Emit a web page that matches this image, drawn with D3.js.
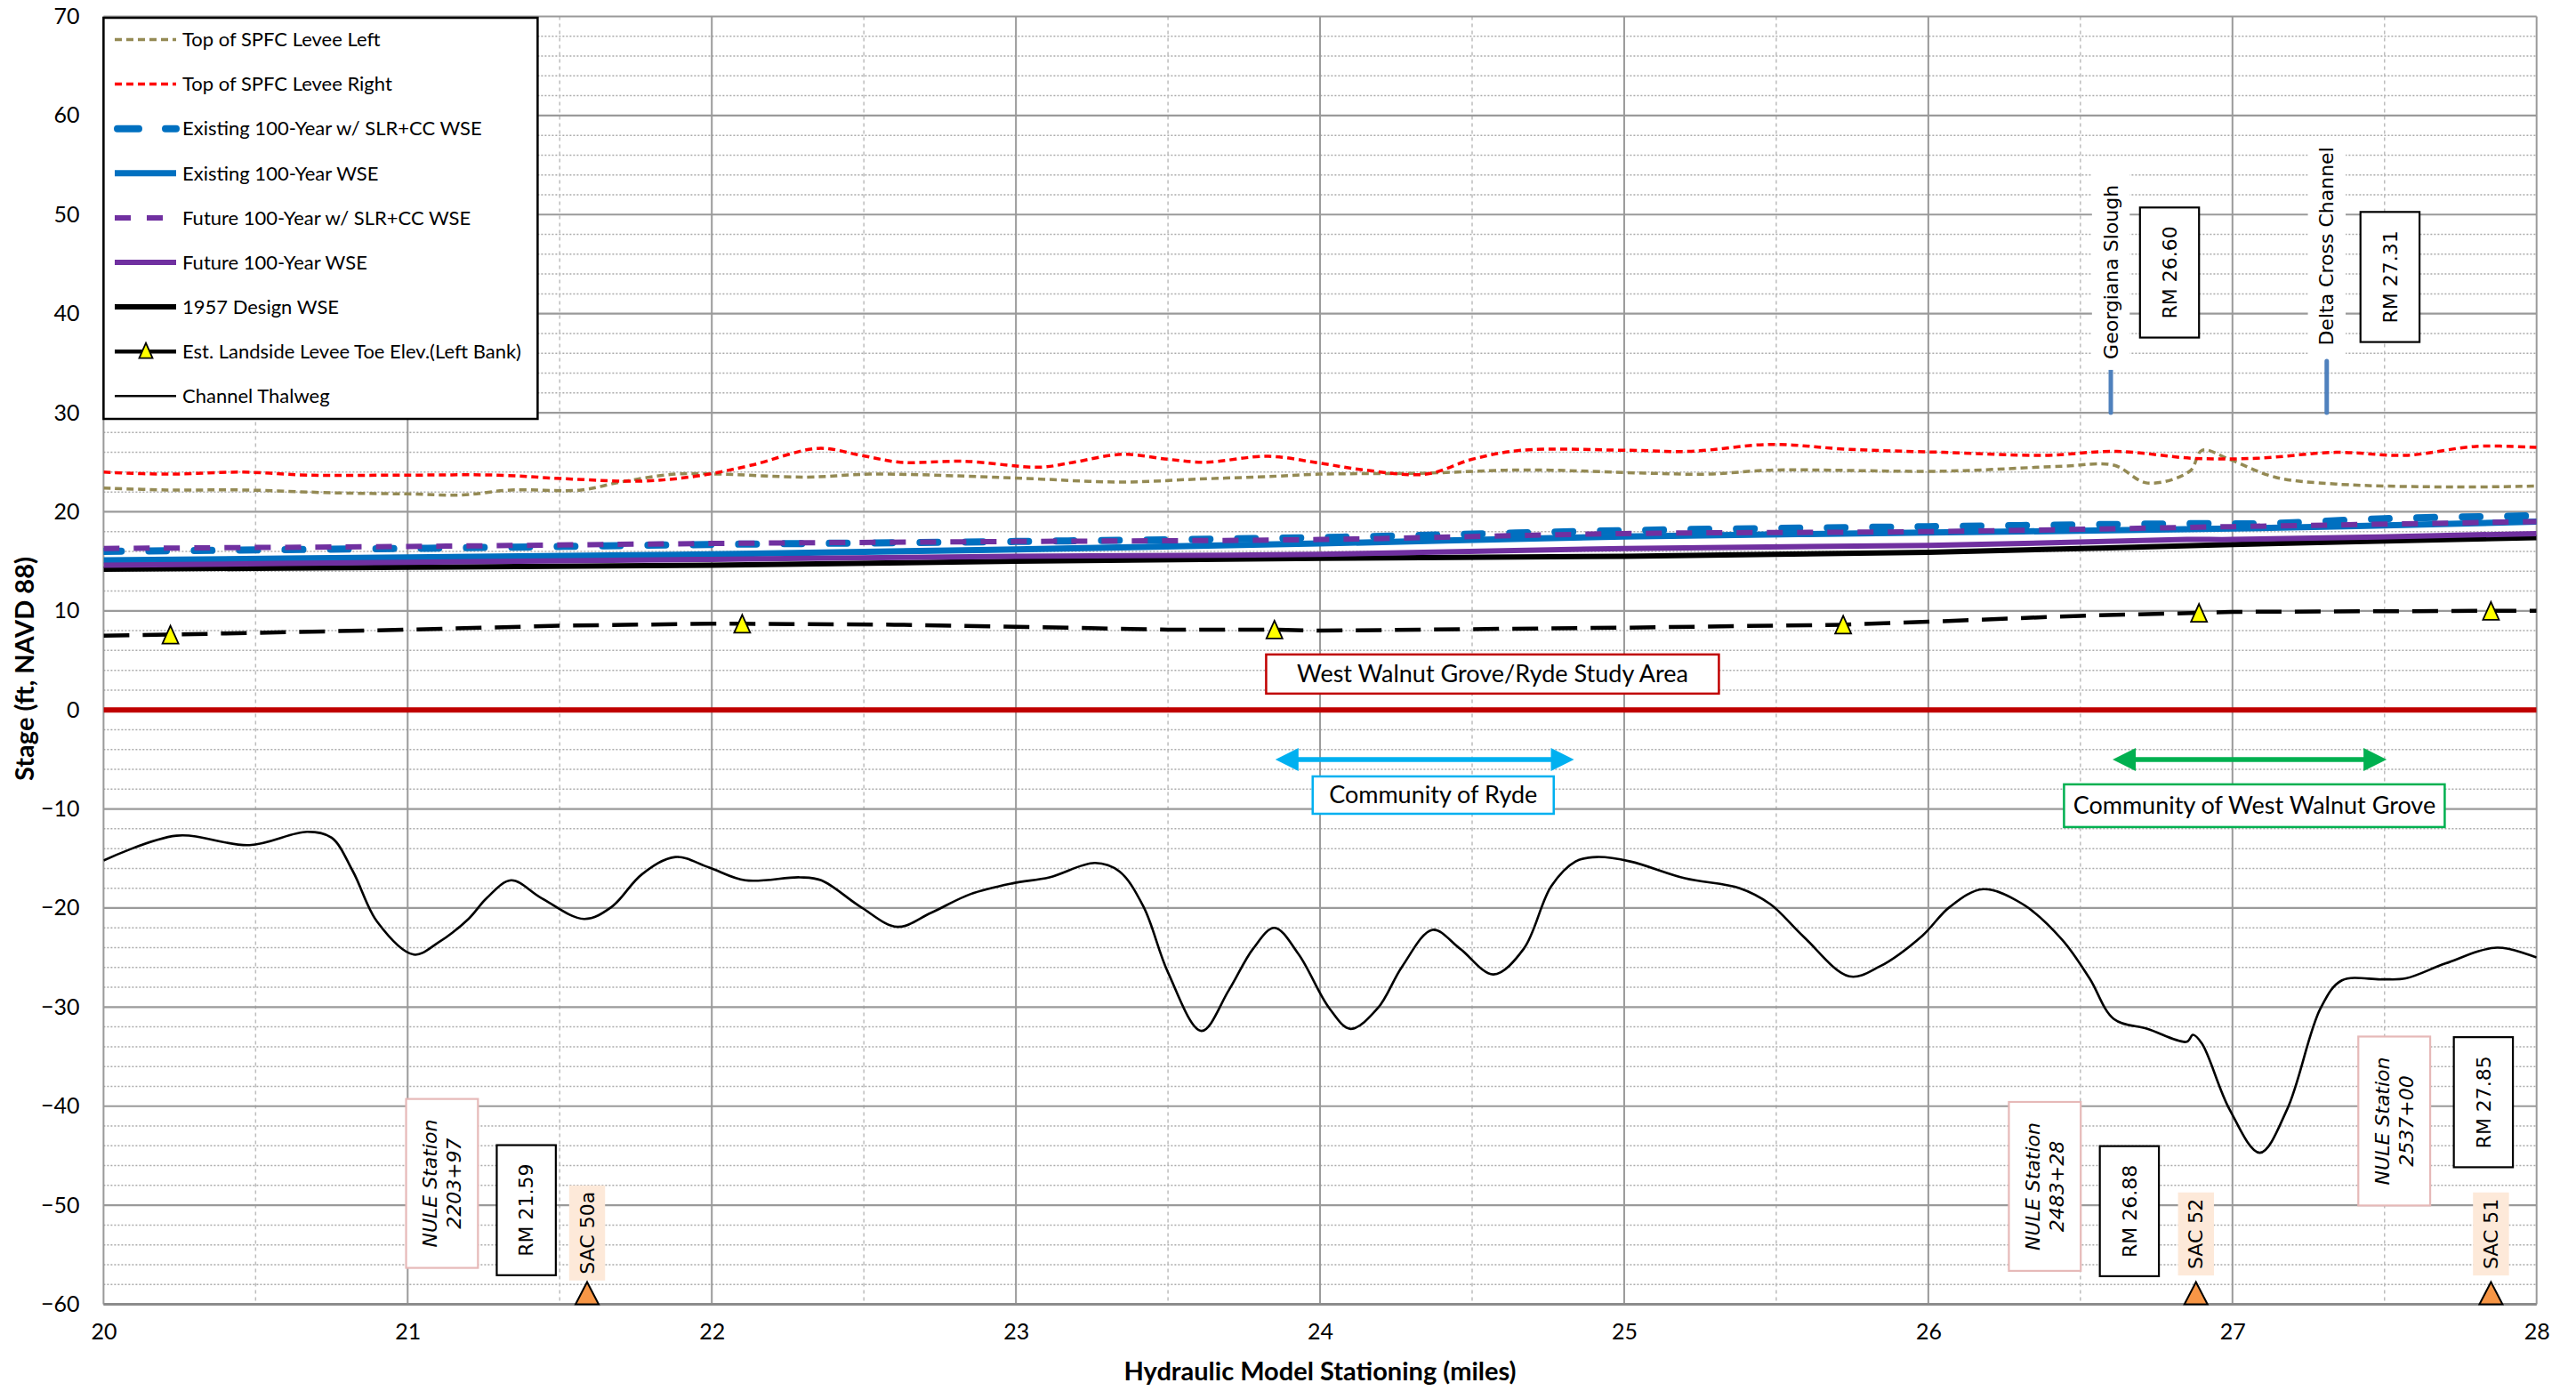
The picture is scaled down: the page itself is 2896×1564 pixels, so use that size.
<!DOCTYPE html>
<html><head><meta charset="utf-8">
<script src="https://cdn.jsdelivr.net/npm/d3@7"></script>
<style>body{margin:0;background:#fff}svg{display:block}</style>
</head><body>
<svg id="chart" width="2896" height="1564"></svg>
<script>
// ---------------- DATA ----------------
const xTicks = [20, 21, 22, 23, 24, 25, 26, 27, 28];
const yTicks = [70, 60, 50, 40, 30, 20, 10, 0, -10, -20, -30, -40, -50, -60];
const xTitle = "Hydraulic Model Stationing (miles)";
const yTitle = "Stage (ft, NAVD 88)";

const leveeLeft = [[20.0,22.4],[20.21,22.2],[20.46,22.2],[20.77,21.9],[21.0,21.8],[21.18,21.7],[21.34,22.2],[21.57,22.2],[21.7,23.0],[21.88,23.8],[22.03,23.8],[22.31,23.5],[22.52,23.8],[22.83,23.6],[23.08,23.3],[23.34,23.0],[23.6,23.3],[23.86,23.6],[24.0,23.8],[24.35,23.9],[24.61,24.2],[24.76,24.2],[25.07,23.9],[25.28,23.8],[25.48,24.2],[26.05,24.1],[26.44,24.6],[26.61,24.7],[26.72,22.9],[26.86,24.1],[26.9,26.2],[26.99,25.3],[27.14,23.5],[27.34,22.8],[27.73,22.5],[28.0,22.6]];
const leveeRight = [[20.0,24.0],[20.21,23.8],[20.46,24.0],[20.67,23.7],[21.0,23.7],[21.29,23.7],[21.54,23.3],[21.77,23.1],[21.95,23.6],[22.13,24.7],[22.35,26.4],[22.49,25.7],[22.62,25.0],[22.83,25.1],[23.08,24.5],[23.19,25.0],[23.35,25.8],[23.5,25.3],[23.62,25.0],[23.83,25.6],[24.0,24.9],[24.15,24.2],[24.35,23.8],[24.5,25.3],[24.66,26.2],[25.02,26.2],[25.22,26.1],[25.48,26.8],[25.74,26.3],[26.05,26.0],[26.38,25.7],[26.62,26.1],[26.87,25.4],[27.08,25.4],[27.34,26.0],[27.57,25.7],[27.8,26.6],[28.0,26.5]];
const existSLR = [[20,16.0],[21,16.3],[22,16.7],[23,17.0],[24,17.4],[25,18.1],[26,18.5],[26.9,18.8],[27.1,18.8],[27.5,19.3],[28,19.6]];
const existWSE = [[20,15.1],[21,15.4],[22,15.7],[23,16.2],[24,16.8],[25,17.5],[26,17.9],[27,18.3],[28,19.0]];
const futureSLR = [[20,16.3],[21,16.5],[22,16.8],[23,17.0],[24,17.2],[25,17.8],[26,18.0],[27,18.5],[28,19.0]];
const futureWSE = [[20,14.6],[21,14.9],[22,15.2],[23,15.5],[24,15.7],[25,16.3],[26,16.6],[26.85,17.2],[27,17.2],[28,17.8]];
const design1957 = [[20,14.2],[21,14.4],[22,14.6],[23,15.0],[24,15.3],[25,15.5],[26,15.9],[27,16.7],[28,17.4]];
const leveeToe = [[20,7.5],[20.22,7.6],[21,8.1],[21.5,8.5],[22,8.7],[22.1,8.7],[22.6,8.6],[23,8.4],[23.5,8.1],[23.85,8.1],[24,8.0],[25,8.3],[25.72,8.6],[26,8.9],[26.5,9.5],[26.89,9.8],[27,9.9],[27.85,10.0],[28,10.0]];
const leveeToeMarkers = [[20.22,7.6],[22.10,8.7],[23.85,8.1],[25.72,8.6],[26.89,9.8],[27.85,10.0]];
const thalweg = [[20.0,-15.2],[20.24,-12.7],[20.48,-13.65],[20.67,-12.3],[20.75,-12.9],[20.82,-16.3],[20.9,-21.4],[21.02,-24.7],[21.1,-23.5],[21.2,-21.1],[21.26,-19.0],[21.34,-17.2],[21.44,-19.0],[21.58,-21.1],[21.67,-19.9],[21.77,-16.6],[21.88,-14.85],[21.99,-15.9],[22.11,-17.2],[22.29,-16.9],[22.36,-17.2],[22.49,-19.9],[22.61,-21.9],[22.72,-20.5],[22.85,-18.6],[22.99,-17.5],[23.11,-16.9],[23.26,-15.45],[23.34,-16.3],[23.42,-19.9],[23.5,-26.5],[23.61,-32.4],[23.7,-28.3],[23.78,-24.1],[23.85,-22.0],[23.93,-24.7],[24.03,-30.1],[24.1,-32.2],[24.19,-30.1],[24.27,-25.9],[24.37,-22.2],[24.46,-24.1],[24.57,-26.7],[24.67,-24.1],[24.76,-17.8],[24.84,-15.3],[24.91,-14.85],[25.02,-15.3],[25.2,-17.0],[25.38,-18.0],[25.48,-19.6],[25.59,-22.9],[25.74,-26.9],[25.84,-25.9],[25.98,-22.8],[26.07,-19.9],[26.18,-18.1],[26.31,-19.6],[26.44,-23.2],[26.53,-27.1],[26.61,-31.2],[26.72,-32.2],[26.85,-33.5],[26.87,-32.8],[26.9,-33.7],[26.99,-40.3],[27.09,-44.7],[27.18,-40.3],[27.29,-30.1],[27.36,-27.3],[27.49,-27.2],[27.57,-27.1],[27.7,-25.6],[27.87,-24.0],[28.0,-25.0]];
const zeroLine = [[20,0],[28,0]];

const legendLabels = ["Top of SPFC Levee Left","Top of SPFC Levee Right","Existing 100-Year w/ SLR+CC WSE","Existing 100-Year WSE","Future 100-Year w/ SLR+CC WSE","Future 100-Year WSE","1957 Design WSE","Est. Landside Levee Toe Elev.(Left Bank)","Channel Thalweg"];

// annotation anchors (mile, ft)
const junctionNames = ["Georgiana Slough","Delta Cross Channel"];
const junctionMiles = [26.60, 27.31];
const junctionTextFt = [44.2, 46.8];
const junctionTickFt = [[30, 35], [30, 35.2]];
const rmTopLabels = ["RM 26.60","RM 27.31"];
const rmTopAnchor = [[26.793, 44.15],[27.518, 43.7]];
const nuleLabels = [["NULE Station","2203+97"],["NULE Station","2483+28"],["NULE Station","2537+00"]];
const nuleAnchor = [[21.113,-47.8],[26.383,-48.1],[27.532,-41.5]];
const rmBottomLabels = ["RM 21.59","RM 26.88","RM 27.85"];
const rmBottomAnchor = [[21.39,-50.5],[26.661,-50.6],[27.825,-39.6]];
const sacLabels = ["SAC 50a","SAC 52","SAC 51"];
const sacMiles = [21.59, 26.88, 27.85];
const sacLabelFt = [-52.8, -52.9, -52.9];
const studyAreaText = "West Walnut Grove/Ryde Study Area";
const studyAreaAnchor = [24.567, 3.62];
const communityNames = ["Community of Ryde","Community of West Walnut Grove"];
const communityRanges = [[23.853, 24.835],[26.606, 27.507]];
const communityArrowFt = [-5.0, -5.0];
const communityBoxAnchor = [[24.372,-8.6],[27.072,-9.67]];

// ---------------- SETUP ----------------
const W = 2896, H = 1564;
const L = 116.4, R = 2851.7, T = 18.5, B = 1466.5;
const svg = d3.select("#chart");
svg.append("rect").attr("width", W).attr("height", H).attr("fill", "#fff");
const x = d3.scaleLinear().domain([20, 28]).range([L, R]);
const y = d3.scaleLinear().domain([-60, 70]).range([B, T]);
const NARROW = "Lato, 'Liberation Sans Narrow', sans-serif";
const VERD = "'DejaVu Sans', Verdana, sans-serif";

// ---------------- GRID ----------------
const grid = svg.append("g");
const minorY = d3.range(-60, 71, 2).filter(v => v % 10 !== 0);
grid.selectAll(".my").data(minorY).join("line")
  .attr("x1", L).attr("x2", R).attr("y1", d => y(d)).attr("y2", d => y(d))
  .attr("stroke", "#ababab").attr("stroke-width", 1.5).attr("stroke-dasharray", "2,2");
const minorX = d3.range(20.5, 28, 1);
grid.selectAll(".mx").data(minorX).join("line")
  .attr("y1", T).attr("y2", B).attr("x1", d => x(d)).attr("x2", d => x(d))
  .attr("stroke", "#bdbdbd").attr("stroke-width", 1.5).attr("stroke-dasharray", "4,4");
grid.selectAll(".My").data(yTicks).join("line")
  .attr("x1", L).attr("x2", R).attr("y1", d => y(d)).attr("y2", d => y(d))
  .attr("stroke", "#9a9a9a").attr("stroke-width", 2.2);
grid.selectAll(".Mx").data(xTicks).join("line")
  .attr("y1", T).attr("y2", B).attr("x1", d => x(d)).attr("x2", d => x(d))
  .attr("stroke", "#9a9a9a").attr("stroke-width", 2);
grid.append("line").attr("x1", L).attr("x2", R).attr("y1", B).attr("y2", B)
  .attr("stroke", "#8c8c8c").attr("stroke-width", 3);

// ---------------- AXES ----------------
const yAxis = d3.axisLeft(y).tickValues(yTicks).tickSize(0).tickPadding(27);
const gy = svg.append("g").attr("transform", `translate(${L},0)`).call(yAxis);
gy.select(".domain").remove();
gy.selectAll("text").attr("font-family", NARROW).attr("font-size", 25).attr("fill", "#000");
const xAxis = d3.axisBottom(x).tickValues(xTicks).tickSize(0).tickPadding(22);
const gx = svg.append("g").attr("transform", `translate(0,${B})`).call(xAxis);
gx.select(".domain").remove();
gx.selectAll("text").attr("font-family", NARROW).attr("font-size", 25).attr("fill", "#000");

svg.append("text").attr("x", (L + R) / 2).attr("y", 1552).attr("text-anchor", "middle")
  .attr("font-family", NARROW).attr("font-weight", "bold").attr("font-size", 29).text(xTitle);
svg.append("text").attr("transform", `translate(38,${752}) rotate(-90)`).attr("text-anchor", "middle")
  .attr("font-family", NARROW).attr("font-weight", "bold").attr("font-size", 29).text(yTitle);

// ---------------- SERIES ----------------
const smooth = d3.line().x(d => x(d[0])).y(d => y(d[1])).curve(d3.curveCatmullRom.alpha(0.5));
const straight = d3.line().x(d => x(d[0])).y(d => y(d[1]));
svg.append("defs").append("clipPath").attr("id", "plotclip").append("rect")
  .attr("x", L).attr("y", T).attr("width", R - L).attr("height", B - T);
const plot = svg.append("g").attr("clip-path", "url(#plotclip)");

const styles = [
  {data: leveeLeft, color: "#948A54", w: 3.5, dash: "8,5", cap: "butt", gen: smooth},
  {data: leveeRight, color: "#FF0000", w: 3.5, dash: "8,5", cap: "butt", gen: smooth},
  {data: existSLR, color: "#0070C0", w: 8, dash: "20,31", cap: "round", gen: smooth},
  {data: existWSE, color: "#0070C0", w: 7, dash: null, cap: "butt", gen: smooth},
  {data: futureSLR, color: "#7030A0", w: 6, dash: "18,16", cap: "butt", gen: smooth},
  {data: futureWSE, color: "#7030A0", w: 6, dash: null, cap: "butt", gen: smooth},
  {data: design1957, color: "#000000", w: 6, dash: null, cap: "butt", gen: smooth},
  {data: leveeToe, color: "#000000", w: 4.5, dash: "29,15", cap: "butt", gen: straight},
  {data: thalweg, color: "#000000", w: 2.6, dash: null, cap: "butt", gen: smooth}
];
plot.append("path").attr("d", straight(zeroLine)).attr("stroke", "#C00000").attr("stroke-width", 6).attr("fill", "none");
const order = [0, 1, 3, 6, 5, 2, 4, 7, 8];
order.forEach(i => {
  const s = styles[i];
  plot.append("path").attr("d", s.gen(s.data)).attr("fill", "none")
    .attr("stroke", s.color).attr("stroke-width", s.w)
    .attr("stroke-dasharray", s.dash).attr("stroke-linecap", s.cap).attr("stroke-linejoin", "round");
});
const triPath = (cx, cy, w, h) => `M${cx},${cy - h / 2}L${cx + w / 2},${cy + h / 2}L${cx - w / 2},${cy + h / 2}Z`;
plot.selectAll(".toe").data(leveeToeMarkers).join("path")
  .attr("d", d => triPath(x(d[0]), y(d[1]), 18, 20))
  .attr("fill", "#FFFF00").attr("stroke", "#000").attr("stroke-width", 1.8).attr("stroke-linejoin", "miter");

// ---------------- ANNOTATIONS ----------------
const ann = svg.append("g");
function rotLabel(mile, ft, lines, o) {
  const g = ann.append("g").attr("transform", `translate(${x(mile)},${y(ft)}) rotate(-90)`);
  const rect = g.append("rect");
  const lh = o.size * 1.2;
  const t = g.append("text").attr("font-family", VERD).attr("font-size", o.size)
    .attr("font-style", o.italic ? "italic" : "normal").attr("text-anchor", "middle").attr("fill", "#000");
  lines.forEach((ln, i) => {
    t.append("tspan").attr("x", 0).attr("y", (i - (lines.length - 1) / 2) * lh).attr("dy", "0.35em").text(ln);
  });
  const bb = t.node().getBBox();
  const tw = bb.width, th = lines.length * lh;
  rect.attr("x", -tw / 2 - o.padA).attr("y", -th / 2 - o.padC)
    .attr("width", tw + 2 * o.padA).attr("height", th + 2 * o.padC)
    .attr("fill", o.fill).attr("stroke", o.stroke || "none").attr("stroke-width", o.sw || 0);
}
junctionMiles.forEach((m, i) => {
  ann.append("line").attr("x1", x(m)).attr("x2", x(m))
    .attr("y1", y(junctionTickFt[i][0])).attr("y2", y(junctionTickFt[i][1]))
    .attr("stroke", "#4F81BD").attr("stroke-width", 5).attr("stroke-linecap", "round");
  rotLabel(m, junctionTextFt[i], [junctionNames[i]], {size: 22, padA: 12, padC: 8, fill: "#fff"});
});
rmTopLabels.forEach((lab, i) => rotLabel(rmTopAnchor[i][0], rmTopAnchor[i][1], [lab], {size: 22, padA: 21, padC: 20, fill: "#fff", stroke: "#000", sw: 2.2}));
nuleLabels.forEach((lab, i) => rotLabel(nuleAnchor[i][0], nuleAnchor[i][1], lab, {size: 22, padA: 23, padC: 14, fill: "#fff", stroke: "#E6B9B8", sw: 2.2, italic: true}));
rmBottomLabels.forEach((lab, i) => rotLabel(rmBottomAnchor[i][0], rmBottomAnchor[i][1], [lab], {size: 22, padA: 21, padC: 20, fill: "#fff", stroke: "#000", sw: 2.2}));
sacLabels.forEach((lab, i) => rotLabel(sacMiles[i], sacLabelFt[i], [lab], {size: 22, padA: 7, padC: 7, fill: "#FDE9D9"}));
sacMiles.forEach(m => {
  const cx = x(m), by = y(-60);
  ann.append("path").attr("d", `M${cx},${by - 25}L${cx + 13},${by}L${cx - 13},${by}Z`)
    .attr("fill", "#F79646").attr("stroke", "#000").attr("stroke-width", 2);
});

function hBox(mile, ft, text, w, h, stroke, size) {
  const cx = x(mile), cy = y(ft);
  ann.append("rect").attr("x", cx - w / 2).attr("y", cy - h / 2).attr("width", w).attr("height", h)
    .attr("fill", "#fff").attr("stroke", stroke).attr("stroke-width", 2.5);
  ann.append("text").attr("x", cx).attr("y", cy).attr("dy", "0.35em").attr("text-anchor", "middle")
    .attr("font-family", NARROW).attr("font-size", size).attr("fill", "#000").text(text);
}
hBox(studyAreaAnchor[0], studyAreaAnchor[1], studyAreaText, 509, 44, "#C00000", 27);
const commColors = ["#00B0F0", "#00B050"];
const commBoxW = [271, 428], commBoxH = [42, 48];
communityNames.forEach((n, i) => {
  const x1 = x(communityRanges[i][0]), x2 = x(communityRanges[i][1]), yy = y(communityArrowFt[i]);
  const hl = 26, hh = 13, c = commColors[i];
  ann.append("line").attr("x1", x1 + hl - 2).attr("x2", x2 - hl + 2).attr("y1", yy).attr("y2", yy)
    .attr("stroke", c).attr("stroke-width", 5.5);
  ann.append("path").attr("d", `M${x1},${yy}L${x1 + hl},${yy - hh}L${x1 + hl},${yy + hh}Z`).attr("fill", c);
  ann.append("path").attr("d", `M${x2},${yy}L${x2 - hl},${yy - hh}L${x2 - hl},${yy + hh}Z`).attr("fill", c);
  hBox(communityBoxAnchor[i][0], communityBoxAnchor[i][1], n, commBoxW[i], commBoxH[i], c, 27);
});

// ---------------- LEGEND ----------------
const lg = svg.append("g");
const lgX = 116.4, lgY = 20, lgW = 488, lgH = 451;
lg.append("rect").attr("x", lgX).attr("y", lgY).attr("width", lgW).attr("height", lgH)
  .attr("fill", "#fff").attr("stroke", "#000").attr("stroke-width", 2.5);
const rowY = i => 44.5 + i * 50.1;
legendLabels.forEach((lab, i) => {
  const s = styles[i], yy = rowY(i);
  let dash = s.dash;
  if (i === 2) dash = "24,30";
  if (i === 4) dash = "18,18";
  lg.append("line").attr("x1", i === 2 ? 132 : 129).attr("x2", 198).attr("y1", yy).attr("y2", yy)
    .attr("stroke", s.color).attr("stroke-width", s.w).attr("stroke-dasharray", i === 7 ? null : dash)
    .attr("stroke-linecap", s.cap);
  if (i === 7) {
    lg.append("path").attr("d", triPath(164, yy - 1, 15, 17)).attr("fill", "#FFFF00")
      .attr("stroke", "#000").attr("stroke-width", 1.8);
  }
  lg.append("text").attr("x", 205).attr("y", yy).attr("dy", "0.35em")
    .attr("font-family", NARROW).attr("font-size", 22).attr("fill", "#000").text(lab);
});
</script>
</body></html>
